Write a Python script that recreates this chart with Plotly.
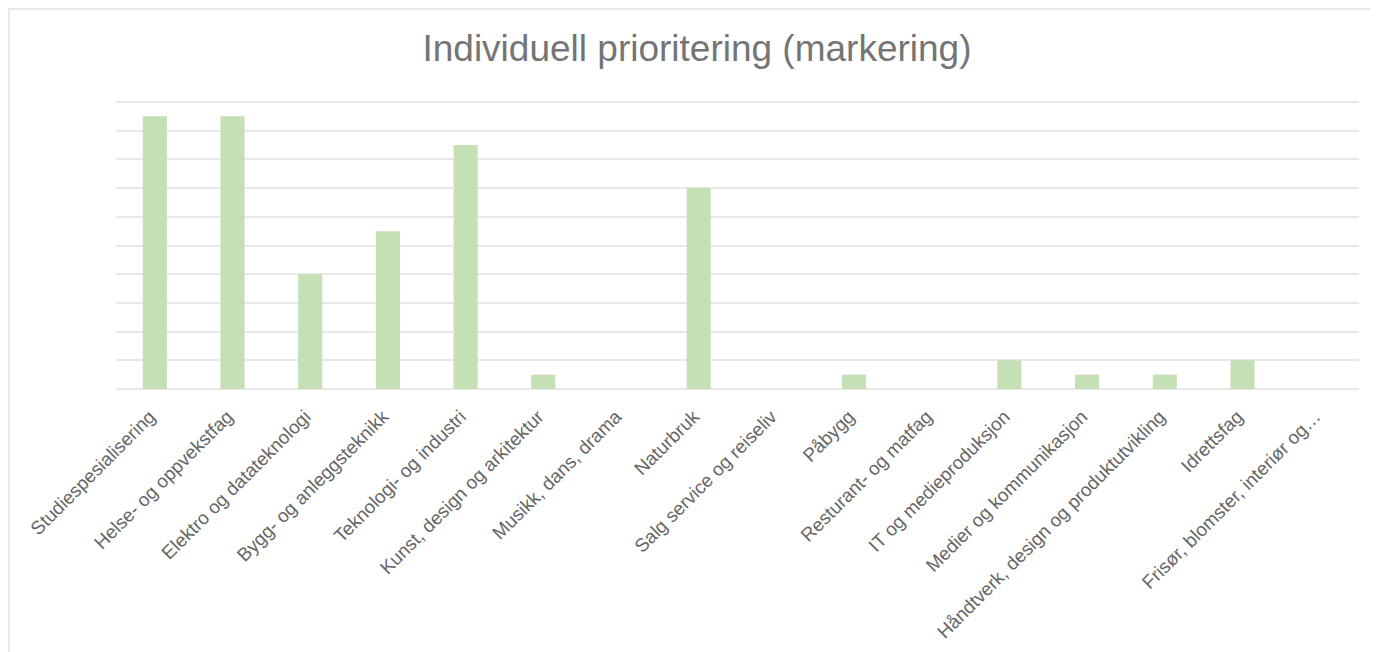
import plotly.graph_objects as go

categories = [
    "Studiespesialisering",
    "Helse- og oppvekstfag",
    "Elektro og datateknologi",
    "Bygg- og anleggsteknikk",
    "Teknologi- og industri",
    "Kunst, design og arkitektur",
    "Musikk, dans, drama",
    "Naturbruk",
    "Salg service og reiseliv",
    "Påbygg",
    "Resturant- og matfag",
    "IT og medieproduksjon",
    "Medier og kommunikasjon",
    "Håndtverk, design og produktutvikling",
    "Idrettsfag",
    "Frisør, blomster, interiør og…",
]
values = [19, 19, 8, 11, 17, 1, 0, 14, 0, 1, 0, 2, 1, 1, 2, 0]

fig = go.Figure()
fig.add_trace(go.Bar(
    x=categories,
    y=values,
    marker=dict(color="#C5E0B4", line=dict(color="#C5E0B4", width=0)),
    width=0.31,
    hoverinfo="x+y",
))

# figure is offset by the 8px page body margin
W, H = 1371, 644
L, R, T, B = 108, 20, 88, 263
pw = W - L - R
ph = H - T - B
unit = 287 / 20.0
ymax = ph / unit

def px_to_paper_x(px):
    return (px - L) / pw

def px_to_paper_y(py):
    return (H - B - py) / ph

fig.add_shape(
    type="rect", xref="paper", yref="paper",
    x0=px_to_paper_x(1), x1=px_to_paper_x(1500),
    y0=px_to_paper_y(900), y1=px_to_paper_y(1),
    line=dict(color="#E3E3E3", width=1.5),
    fillcolor="rgba(0,0,0,0)",
    layer="below",
)

fig.update_layout(
    width=W, height=H,
    margin=dict(l=L, r=R, t=T, b=B, autoexpand=False),
    paper_bgcolor="white",
    plot_bgcolor="white",
    showlegend=False,
    font=dict(family="Liberation Sans, Arial, sans-serif", color="#666666"),
    title=dict(
        text="Individuell prioritering (markering)",
        x=689 / W, xref="container", xanchor="center",
        y=1 - 40 / H, yref="container", yanchor="middle",
        font=dict(size=37, color="#757575", family="Liberation Sans, Arial, sans-serif"),
    ),
)

fig.update_xaxes(
    tickangle=-45,
    tickfont=dict(size=18.8, color="#666666"),
    showgrid=False,
    showline=False,
    ticks="",
    ticklen=0,
    ticklabelstandoff=12,
    ticklabelshift=-5,
    automargin=False,
    fixedrange=True,
)
fig.update_yaxes(
    range=[0, ymax],
    dtick=2,
    showgrid=True,
    gridcolor="#E8E8E8",
    gridwidth=2,
    showticklabels=False,
    zeroline=True,
    zerolinecolor="#E8E8E8",
    zerolinewidth=2,
    showline=False,
    ticks="",
    automargin=False,
    fixedrange=True,
)

fig.write_html("out.html")
